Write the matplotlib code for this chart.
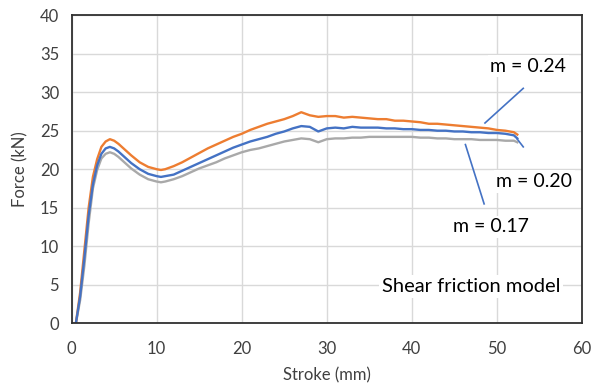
import matplotlib.pyplot as plt

plt.rcParams['font.family'] = ['Lato', 'DejaVu Sans']

# stroke positions (mm)
stroke = [0.5, 1, 1.5, 2, 2.5, 3, 3.5, 4, 4.5, 5, 5.5, 6, 7, 8, 9, 10, 10.5, 11, 12, 13, 14,
          15, 16, 17, 18, 19, 20, 21, 22, 23, 24, 25, 26, 27, 28, 29, 30, 31, 32,
          33, 34, 35, 36, 37, 38, 39, 40, 41, 42, 43, 44, 45, 46, 47, 48, 49, 50, 51,
          52, 52.4]

force_024 = [0, 4.0, 9.5, 15.0, 19.0, 21.3, 22.9, 23.6, 23.9, 23.7, 23.3, 22.8, 21.8, 20.9, 20.3,
             20.0, 19.9, 20.0, 20.4, 20.9, 21.5, 22.1, 22.7, 23.2, 23.7, 24.2, 24.6, 25.1,
             25.5, 25.9, 26.2, 26.5, 26.9, 27.4, 27.0, 26.8, 26.9, 26.9, 26.7, 26.8, 26.7,
             26.6, 26.5, 26.5, 26.3, 26.3, 26.2, 26.1, 25.9, 25.9, 25.8, 25.7, 25.6, 25.5,
             25.4, 25.3, 25.1, 25.0, 24.8, 24.5]
force_020 = [0, 3.5, 8.5, 14.0, 18.0, 20.5, 22.0, 22.7, 22.9, 22.7, 22.3, 21.8, 20.8, 20.0, 19.4,
             19.1, 19.0, 19.1, 19.3, 19.8, 20.3, 20.8, 21.3, 21.8, 22.3, 22.8, 23.2, 23.6,
             23.9, 24.2, 24.6, 24.9, 25.3, 25.6, 25.5, 24.9, 25.3, 25.4, 25.3, 25.5, 25.4,
             25.4, 25.4, 25.3, 25.3, 25.2, 25.2, 25.1, 25.1, 25.0, 25.0, 24.9, 24.9, 24.8,
             24.8, 24.7, 24.7, 24.6, 24.4, 24.0]
force_017 = [0, 3.0, 7.5, 13.0, 17.5, 19.9, 21.4, 22.0, 22.2, 22.0, 21.6, 21.1, 20.1, 19.3, 18.7,
             18.4, 18.3, 18.4, 18.7, 19.1, 19.6, 20.1, 20.5, 20.9, 21.4, 21.8, 22.2, 22.5,
             22.7, 23.0, 23.3, 23.6, 23.8, 24.0, 23.9, 23.5, 23.9, 24.0, 24.0, 24.1, 24.1,
             24.2, 24.2, 24.2, 24.2, 24.2, 24.2, 24.1, 24.1, 24.0, 24.0, 23.9, 23.9, 23.9,
             23.8, 23.8, 23.8, 23.7, 23.7, 23.5]

fig = plt.figure(figsize=(5.92, 3.89), dpi=100)
ax = fig.add_axes([0.121, 0.169, 0.862, 0.792])

ax.plot(stroke, force_017, color='#A9A9A9', lw=1.7)
ax.plot(stroke, force_024, color='#ED7D31', lw=1.7)
ax.plot(stroke, force_020, color='#4472C4', lw=1.7)

ax.set_xlim(0, 60)
ax.set_ylim(0, 40)
ax.set_xticks(range(0, 61, 10))
ax.set_yticks(range(0, 41, 5))
ax.grid(True, color='#d9d9d9', lw=1)
ax.set_axisbelow(True)
for s in ax.spines.values():
    s.set_color('#303030')
    s.set_linewidth(1.3)
ax.tick_params(length=0, labelsize=12, colors='#404040')
ax.tick_params(axis='x', pad=13)
ax.tick_params(axis='y', pad=9)
ax.set_xlabel('Stroke (mm)', fontsize=12, color='#404040', labelpad=7)
ax.set_ylabel('Force (kN)', fontsize=12, color='#404040', labelpad=8)

# annotations
box = dict(facecolor='white', edgecolor='none', pad=2)
ax.plot([53.1, 48.6], [30.5, 26.0], color='#4472C4', lw=1.2)
ax.plot([52.4, 53.1], [23.9, 22.9], color='#4472C4', lw=1.2)
ax.plot([46.3, 48.5], [23.2, 15.5], color='#4472C4', lw=1.2)
ax.text(53.7, 33.4, 'm = 0.24', fontsize=14, ha='center', va='center', bbox=box)
ax.text(54.4, 18.4, 'm = 0.20', fontsize=14, ha='center', va='center', bbox=box)
ax.text(49.3, 12.5, 'm = 0.17', fontsize=14, ha='center', va='center', bbox=box)
ax.text(47.0, 4.8, 'Shear friction model', fontsize=14.5, ha='center', va='center', bbox=box)

fig.savefig('out.png', dpi=100)
